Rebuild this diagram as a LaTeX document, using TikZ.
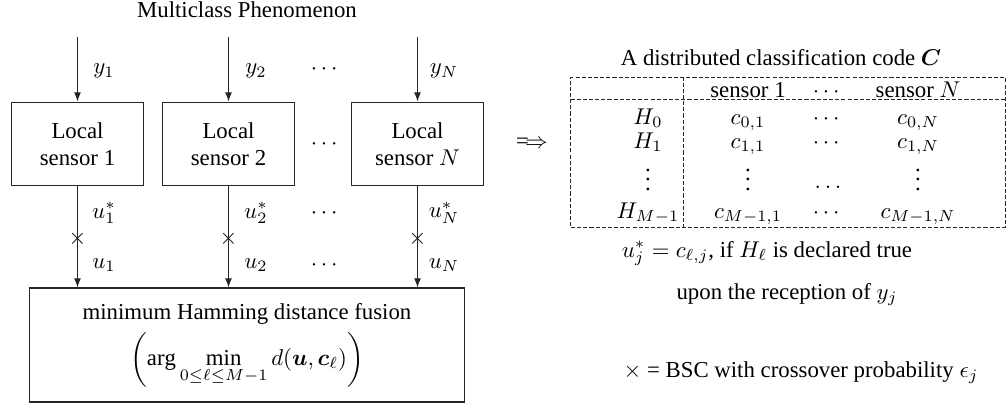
\documentclass[tikz,border=0pt]{standalone}
\usepackage{amsmath,bm}
\usepackage{fontspec}
\setmainfont{Liberation Serif}
\usetikzlibrary{arrows.meta}
\newcommand{\tvdots}{\vbox{\baselineskip4pt\lineskiplimit0pt\hbox{.}\hbox{.}\hbox{.}}}
\begin{document}
\begin{tikzpicture}[x=0.4386pt,y=-0.4386pt,
  box/.style={draw=black!85, minimum width=58.3pt, minimum height=36.8pt, align=center, inner sep=0pt, line width=0.45pt},
  arr/.style={draw=black!85, -{Latex[length=4pt,width=3pt]}, line width=0.45pt},
  ln/.style={draw=black!85, line width=0.45pt},
  lbl/.style={inner sep=0pt},
  tdash/.style={draw=black!85, line width=0.4pt, dash pattern=on 1.8pt off 0.9pt},
  cell/.style={anchor=base, inner sep=0pt}]
\useasboundingbox (0,0) rectangle (1006,408);
% title
\node[cell] (title) at (247,18) {Multiclass Phenomenon};
% inputs
\coordinate (in1) at (77.5,37);
\coordinate (in2) at (228.5,37);
\coordinate (inN) at (417.5,37);
% sensors
\node[box] (s1) at (77.5,144) {Local\\sensor 1};
\node[box] (s2) at (228.5,144) {Local\\sensor 2};
\node[box] (sN) at (417.5,144) {Local\\sensor $N$};
\draw[arr] (in1) -- (s1);
\draw[arr] (in2) -- (s2);
\draw[arr] (inN) -- (sN);
\node[lbl] (ly1) at (104,71) {$y_1$};
\node[lbl] (ly2) at (256,71) {$y_2$};
\node[lbl] (lyN) at (444,71) {$y_N$};
\node[lbl] (dA) at (326,69) {$\cdots$};
\node[lbl] (dB) at (326,144) {$\cdots$};
% fusion
\node[box, minimum width=191.2pt, minimum height=50pt] (fus) at (247,345) {};
\node[cell] (fusT) at (247,319) {minimum Hamming distance fusion};
\node[lbl] (fusF) at (247,359.5)
  {$\displaystyle\left(\arg\min_{0\leq\ell\leq M-1} d(\bm{u},\bm{c}_\ell)\right)$};
% channels
\node[lbl] (x1) at (77.5,239) {$\times$};
\node[lbl] (x2) at (228.5,239) {$\times$};
\node[lbl] (xN) at (417.5,239) {$\times$};
\draw[ln] (s1) -- (x1.center);
\draw[ln] (s2) -- (x2.center);
\draw[ln] (sN) -- (xN.center);
\draw[arr] (x1.center) -- (x1 |- fus.north);
\draw[arr] (x2.center) -- (x2 |- fus.north);
\draw[arr] (xN.center) -- (xN |- fus.north);
\node[lbl] (lu1s) at (104,213) {$u_1^*$};
\node[lbl] (lu2s) at (256,213) {$u_2^*$};
\node[lbl] (luNs) at (444,213) {$u_N^*$};
\node[lbl] (lu1) at (104,265) {$u_1$};
\node[lbl] (lu2) at (256,265) {$u_2$};
\node[lbl] (luN) at (444,265) {$u_N$};
\node[lbl] (dC) at (326,213) {$\cdots$};
\node[lbl] (dD) at (326,265) {$\cdots$};
% implies
\node[lbl] (impl) at (532,143) {$\Longrightarrow$};
% table
\node[cell] (ttl) at (781,65) {A distributed classification code $\bm{C}$};
\node[draw, tdash, minimum width=190.4pt, minimum height=65.8pt, inner sep=0pt] (tab) at (788,152) {};
\coordinate (hl) at (0,99);
\coordinate (vl) at (683,0);
\draw[tdash] (tab.west |- hl) -- (tab.east |- hl);
\draw[tdash] (tab.north -| vl) -- (tab.south -| vl);
\node[cell] (h1) at (748,97) {sensor 1};
\node[cell] (h2) at (828,97) {$\cdots$};
\node[cell] (h3) at (918,97) {sensor $N$};
\node[cell] (r0a) at (648,124) {$H_0$};
\node[cell] (r0b) at (748,124) {$c_{0,1}$};
\node[cell] (r0c) at (828,124) {$\cdots$};
\node[cell] (r0d) at (918,124) {$c_{0,N}$};
\node[cell] (r1a) at (648,148) {$H_1$};
\node[cell] (r1b) at (748,148) {$c_{1,1}$};
\node[cell] (r1c) at (828,148) {$\cdots$};
\node[cell] (r1d) at (918,148) {$c_{1,N}$};
\node[cell] (r2a) at (648,190) {\tvdots};
\node[cell] (r2b) at (748,190) {\tvdots};
\node[cell] (r2c) at (828,188) {$\ldots$};
\node[cell] (r2d) at (918,190) {\tvdots};
\node[cell] (r3a) at (648,218) {$H_{M-1}$};
\node[cell] (r3b) at (748,218) {$c_{M-1,1}$};
\node[cell] (r3c) at (828,218) {$\cdots$};
\node[cell] (r3d) at (918,218) {$c_{M-1,N}$};
% notes
\node[cell] (n1) at (767,257) {$u_j^* = c_{\ell,j}$, if $H_\ell$ is declared true};
\node[cell] (n2) at (787,299) {upon the reception of $y_j$};
\node[cell] (n3) at (801,377) {$\times$ = BSC with crossover probability $\epsilon_j$};
\end{tikzpicture}
\end{document}
